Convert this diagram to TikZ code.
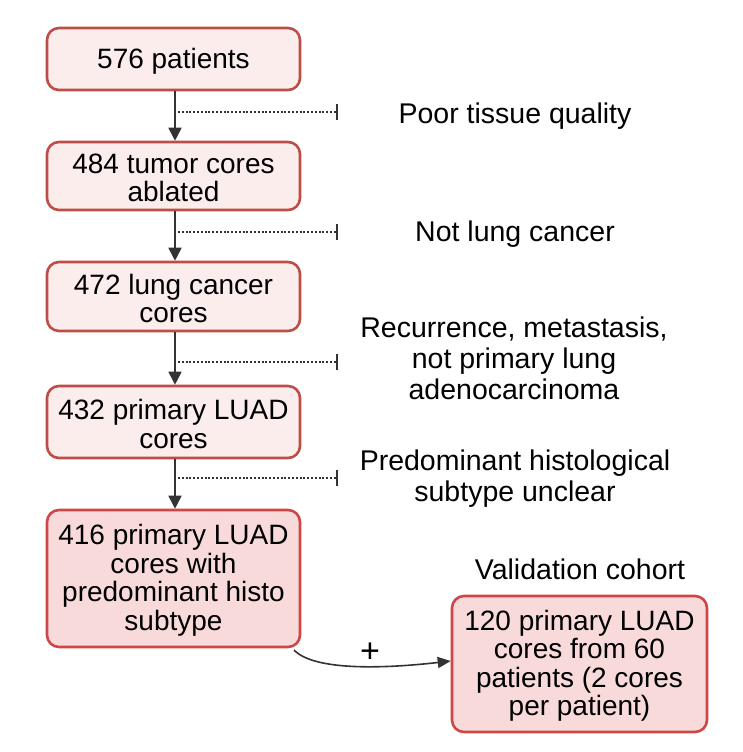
\documentclass[tikz,border=0pt]{standalone}
\usepackage{fontspec}
\setmainfont{Liberation Sans}
\usetikzlibrary{arrows.meta}
\definecolor{lfill}{HTML}{FAEDEC}
\definecolor{lborder}{HTML}{BE4D47}
\definecolor{dfill}{HTML}{F8DADB}
\definecolor{dborder}{HTML}{D04545}
\definecolor{arr}{HTML}{333333}
\tikzset{
  box/.style={rectangle, rounded corners=12pt, line width=2.6pt,
    minimum width=253pt, inner sep=0pt},
  boxtxt/.style={align=center, inner sep=0pt, yshift=-2pt, font=\fontsize{28}{28.5}\selectfont},
  lbox/.style={box, draw=lborder, fill=lfill},
  dbox/.style={box, draw=dborder, fill=dfill},
  lbl/.style={align=center, inner sep=0pt, font=\fontsize{28.5}{31}\selectfont},
  flow/.style={draw=arr, line width=1.8pt, -{Triangle[length=13pt,width=13pt]}},
  excl/.style={draw=arr, line width=2pt, dash pattern=on 2pt off 1.8pt, -{Bar[width=16pt,line width=2.2pt]}}
}
\begin{document}
\begin{tikzpicture}[x=1pt,y=-1pt]
\useasboundingbox (0,0) rectangle (743,752);
\fill[white] (0,0) rectangle (743,752);
\node[lbox, minimum height=62pt, label={[boxtxt]center:576 patients}] (b1) at (173.5,59) {};
\node[lbox, minimum height=68pt, label={[boxtxt]center:484 tumor cores\\ablated}] (b2) at (173.5,176) {};
\node[lbox, minimum height=69pt, label={[boxtxt]center:472 lung cancer\\cores}] (b3) at (173.5,296.5) {};
\node[lbox, minimum height=72pt, label={[boxtxt]center:432 primary LUAD\\cores}] (b4) at (173.5,422) {};
\node[dbox, minimum height=137pt, label={[boxtxt]center:416 primary LUAD\\cores with\\predominant histo\\subtype}] (b5) at (173.5,578.5) {};
\node[dbox, minimum height=136pt, minimum width=255pt, label={[boxtxt]center:120 primary LUAD\\cores from 60\\patients (2 cores\\per patient)}] (bv) at (579.5,664) {};

\node[lbl] (l1) at (515,116) {Poor tissue quality};
\node[lbl] (l2) at (515,234) {Not lung cancer};
\node[lbl] (l3) at (514,358) {Recurrence, metastasis,\\not primary lung\\adenocarcinoma};
\node[lbl] (l4) at (515,479) {Predominant histological\\subtype unclear};
\node[lbl] (lv) at (580,569) {Validation cohort};

\draw[flow] (b1.south -| 175,0) -- (b2.north -| 175,0);
\draw[flow] (b2.south -| 175,0) -- (b3.north -| 175,0);
\draw[flow] (b3.south -| 175,0) -- (b4.north -| 175,0);
\draw[flow] (b4.south -| 175,0) -- (b5.north -| 175,0);

\coordinate (d1s) at (178,112); \coordinate (d1e) at (338,112);
\coordinate (d2s) at (178,232); \coordinate (d2e) at (338,232);
\coordinate (d3s) at (178,362); \coordinate (d3e) at (338,362);
\coordinate (d4s) at (178,478); \coordinate (d4e) at (338,478);
\draw[excl] (d1s) -- (d1e);
\draw[excl] (d2s) -- (d2e);
\draw[excl] (d3s) -- (d3e);
\draw[excl] (d4s) -- (d4e);

\coordinate (cs) at (294,650);
\draw[draw=arr, line width=1.6pt, -{Triangle[length=13pt,width=11pt]}]
  (cs) .. controls (315,672) and (390,668) .. (bv.west |- 0,661);
\node[font=\fontsize{34}{34}\selectfont, inner sep=0pt] (plus) at (370,653) {+};
\end{tikzpicture}
\end{document}
